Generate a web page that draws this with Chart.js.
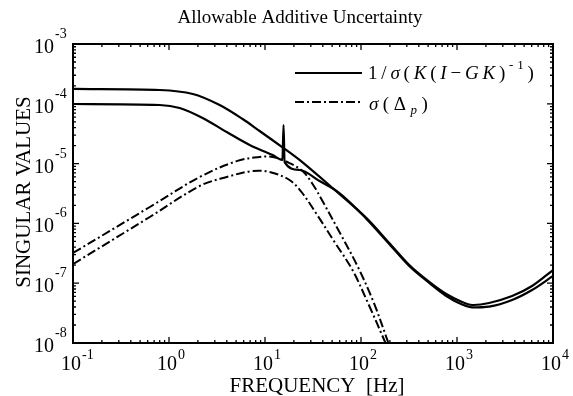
<!DOCTYPE html>
<html lang="en">
<head>
<meta charset="UTF-8">
<title>Allowable Additive Uncertainty</title>
<script src="https://cdn.jsdelivr.net/npm/chart.js"></script>
<style>
  body { margin: 0; background: #fff; }
  .wrap { position: relative; width: 573px; height: 396px; }
</style>
</head>
<body>
<div class="wrap"><canvas id="grafico"></canvas></div>
<script>
// 1/sigma(K(I-GK)^-1), two singular value curves
const freqInv1 = [0.1, 0.8, 1.77, 3.37, 5.85, 8.79, 15.6, 22.9, 50.5, 114, 197, 318, 514, 773, 1130, 1440, 2160, 3750, 6050, 10000];
const valInv1 = [1.77e-4, 1.70e-4, 1.46e-4, 9.55e-5, 5.57e-5, 3.51e-5, 1.82e-5, 1.15e-5, 3.91e-6, 1.23e-6, 4.70e-7, 2.01e-7, 1.05e-7, 6.59e-8, 4.85e-8, 4.32e-8, 4.67e-8, 6.11e-8, 8.97e-8, 1.66e-7];
const freqInv2 = [0.1, 0.8, 1.29, 2.24, 3.99, 6.92, 12.0, 15.2, 15.6, 16.0, 22.9, 37.0, 59.6, 114, 197, 318, 514, 773, 1130, 1440, 2160, 3750, 6050, 10000];
const valInv2 = [9.93e-5, 9.55e-5, 8.51e-5, 5.79e-5, 3.37e-5, 2.05e-5, 1.39e-5, 1.15e-5, 4.42e-5, 1.06e-5, 7.82e-6, 5.12e-6, 3.22e-6, 1.19e-6, 4.53e-7, 1.94e-7, 1.01e-7, 6.11e-8, 4.41e-8, 3.94e-8, 4.07e-8, 5.24e-8, 7.69e-8, 1.32e-7];

// sigma(Delta_p), two curves
const freqDelta1 = [0.1, 0.631, 2.09, 5.07, 8.79, 12.0, 18.0, 24.6, 31.3, 39.7, 59.6, 91.8, 135, 193];
const valDelta1 = [3.20e-7, 1.88e-6, 5.97e-6, 1.10e-5, 1.29e-5, 1.29e-5, 1.02e-5, 7.52e-6, 4.56e-6, 2.37e-6, 7.18e-7, 1.94e-7, 4.85e-8, 1.0e-8];
const freqDelta2 = [0.1, 0.631, 2.09, 3.99, 7.43, 11.2, 18.0, 24.0, 34.4, 53.0, 81.5, 122, 180];
const valDelta2 = [2.09e-7, 1.28e-6, 4.22e-6, 5.97e-6, 7.52e-6, 7.24e-6, 5.32e-6, 3.35e-6, 1.44e-6, 4.89e-7, 1.66e-7, 4.16e-8, 1.0e-8];

// decade exponents used for tick labels
const xDecades = [-1, 0, 1, 2, 3, 4];
const yDecades = [-8, -7, -6, -5, -4, -3];

const titleText = "Allowable Additive Uncertainty";
const xTitle = "FREQUENCY  [Hz]";
const yTitle = "SINGULAR VALUES";

const SERIF = '"Liberation Serif", "Times New Roman", serif';
const DASHDOT = [9, 3, 2, 3];

function pts(fs, vs) {
  return fs.map((f, i) => ({ x: f, y: vs[i] }));
}

// draws text char by char with extra spacing; pieces: {t, it, size, dy}
function drawRich(ctx, pieces, x, y, spacing) {
  pieces.forEach(p => {
    ctx.font = (p.it ? 'italic ' : '') + p.size + 'px ' + SERIF;
    for (const ch of p.t) {
      ctx.fillText(ch, x, y + (p.dy || 0));
      x += ctx.measureText(ch).width + spacing;
    }
  });
}

const frame = {
  id: 'frame',
  afterDraw(chart) {
    const { ctx, chartArea: a, scales: { x, y } } = chart;
    ctx.save();
    ctx.strokeStyle = '#000';
    ctx.fillStyle = '#000';

    // box
    ctx.lineWidth = 2;
    ctx.strokeRect(a.left, a.top, a.right - a.left, a.bottom - a.top);

    // inward log ticks on all four sides
    ctx.lineWidth = 1.3;
    ctx.beginPath();
    for (let d = -1; d <= 4; d++) {
      for (let m = 1; m < 10; m++) {
        const v = m * Math.pow(10, d);
        if (v > 10000) break;
        const px = x.getPixelForValue(v);
        const len = m === 1 ? 6 : 3;
        ctx.moveTo(px, a.bottom); ctx.lineTo(px, a.bottom - len);
        ctx.moveTo(px, a.top); ctx.lineTo(px, a.top + len);
      }
    }
    for (let d = -8; d <= -3; d++) {
      for (let m = 1; m < 10; m++) {
        const v = m * Math.pow(10, d);
        if (v > 1e-3) break;
        const py = y.getPixelForValue(v);
        const len = m === 1 ? 6 : 3;
        ctx.moveTo(a.left, py); ctx.lineTo(a.left + len, py);
        ctx.moveTo(a.right, py); ctx.lineTo(a.right - len, py);
      }
    }
    ctx.stroke();

    // tick labels 10^n
    ctx.textBaseline = 'alphabetic';
    xDecades.forEach(e => {
      const px = x.getPixelForValue(Math.pow(10, e));
      ctx.font = '20px ' + SERIF;
      ctx.textAlign = 'center';
      ctx.fillText('10', px - 2, 370);
      ctx.font = '14px ' + SERIF;
      ctx.textAlign = 'left';
      ctx.fillText(String(e), px + 9, 359);
    });
    yDecades.forEach(e => {
      const py = y.getPixelForValue(Math.pow(10, e));
      ctx.font = '20px ' + SERIF;
      ctx.textAlign = 'right';
      ctx.fillText('10', 54, py + 9);
      ctx.font = '14px ' + SERIF;
      ctx.textAlign = 'left';
      ctx.fillText(String(e), 55, py - 6);
    });

    // titles
    ctx.textAlign = 'center';
    ctx.font = '19px ' + SERIF;
    ctx.fillText(titleText, 300, 23);
    ctx.font = '21px ' + SERIF;
    ctx.fillText(xTitle, 317, 392);
    ctx.save();
    ctx.translate(30, 192);
    ctx.rotate(-Math.PI / 2);
    ctx.fillText(yTitle, 0, 0);
    ctx.restore();

    // legend
    ctx.lineWidth = 2;
    ctx.beginPath();
    ctx.moveTo(295, 73); ctx.lineTo(362, 73);
    ctx.stroke();
    ctx.setLineDash(DASHDOT);
    ctx.beginPath();
    ctx.moveTo(295, 102); ctx.lineTo(363, 102);
    ctx.stroke();
    ctx.setLineDash([]);

    ctx.textAlign = 'left';
    drawRich(ctx, [
      { t: '1/', size: 19 },
      { t: 'σ', it: true, size: 19 },
      { t: '(', size: 19 },
      { t: 'K', it: true, size: 19 },
      { t: '(', size: 19 },
      { t: 'I', it: true, size: 19 },
      { t: '−', size: 19 },
      { t: 'GK', it: true, size: 19 },
      { t: ')', size: 19 },
      { t: '-1', size: 13, dy: -10 },
      { t: ')', size: 19 }
    ], 368, 79, 3.8);
    drawRich(ctx, [
      { t: 'σ', it: true, size: 19 },
      { t: '(', size: 19 },
      { t: 'Δ', size: 19 },
      { t: 'p', it: true, size: 13, dy: 4 },
      { t: ')', size: 19 }
    ], 369, 110, 4.5);

    ctx.restore();
  }
};

const ctx = document.getElementById('grafico').getContext('2d');
new Chart(ctx, {
  type: 'line',
  data: {
    datasets: [
      { data: pts(freqInv1, valInv1), borderColor: '#000', borderWidth: 2.2,
        cubicInterpolationMode: 'default', tension: 0.3 },
      { data: pts(freqInv2, valInv2), borderColor: '#000', borderWidth: 2.2 },
      { data: pts(freqDelta1, valDelta1), borderColor: '#000', borderWidth: 2, borderDash: DASHDOT,
        cubicInterpolationMode: 'default', tension: 0.35 },
      { data: pts(freqDelta2, valDelta2), borderColor: '#000', borderWidth: 2, borderDash: DASHDOT,
        cubicInterpolationMode: 'default', tension: 0.35 }
    ]
  },
  options: {
    responsive: true,
    maintainAspectRatio: false,
    animation: false,
    layout: { padding: { left: 73, right: 20, top: 44, bottom: 53 } },
    elements: {
      point: { radius: 0 },
      line: { cubicInterpolationMode: 'monotone', fill: false }
    },
    plugins: {
      legend: { display: false },
      tooltip: { enabled: false }
    },
    scales: {
      x: {
        type: 'logarithmic', min: 0.1, max: 10000,
        grid: { display: false }, border: { display: false },
        ticks: { display: false },
        afterFit(s) { s.height = 0; }
      },
      y: {
        type: 'logarithmic', min: 1e-8, max: 1e-3,
        grid: { display: false }, border: { display: false },
        ticks: { display: false },
        afterFit(s) { s.width = 0; }
      }
    }
  },
  plugins: [frame]
});
</script>
</body>
</html>
